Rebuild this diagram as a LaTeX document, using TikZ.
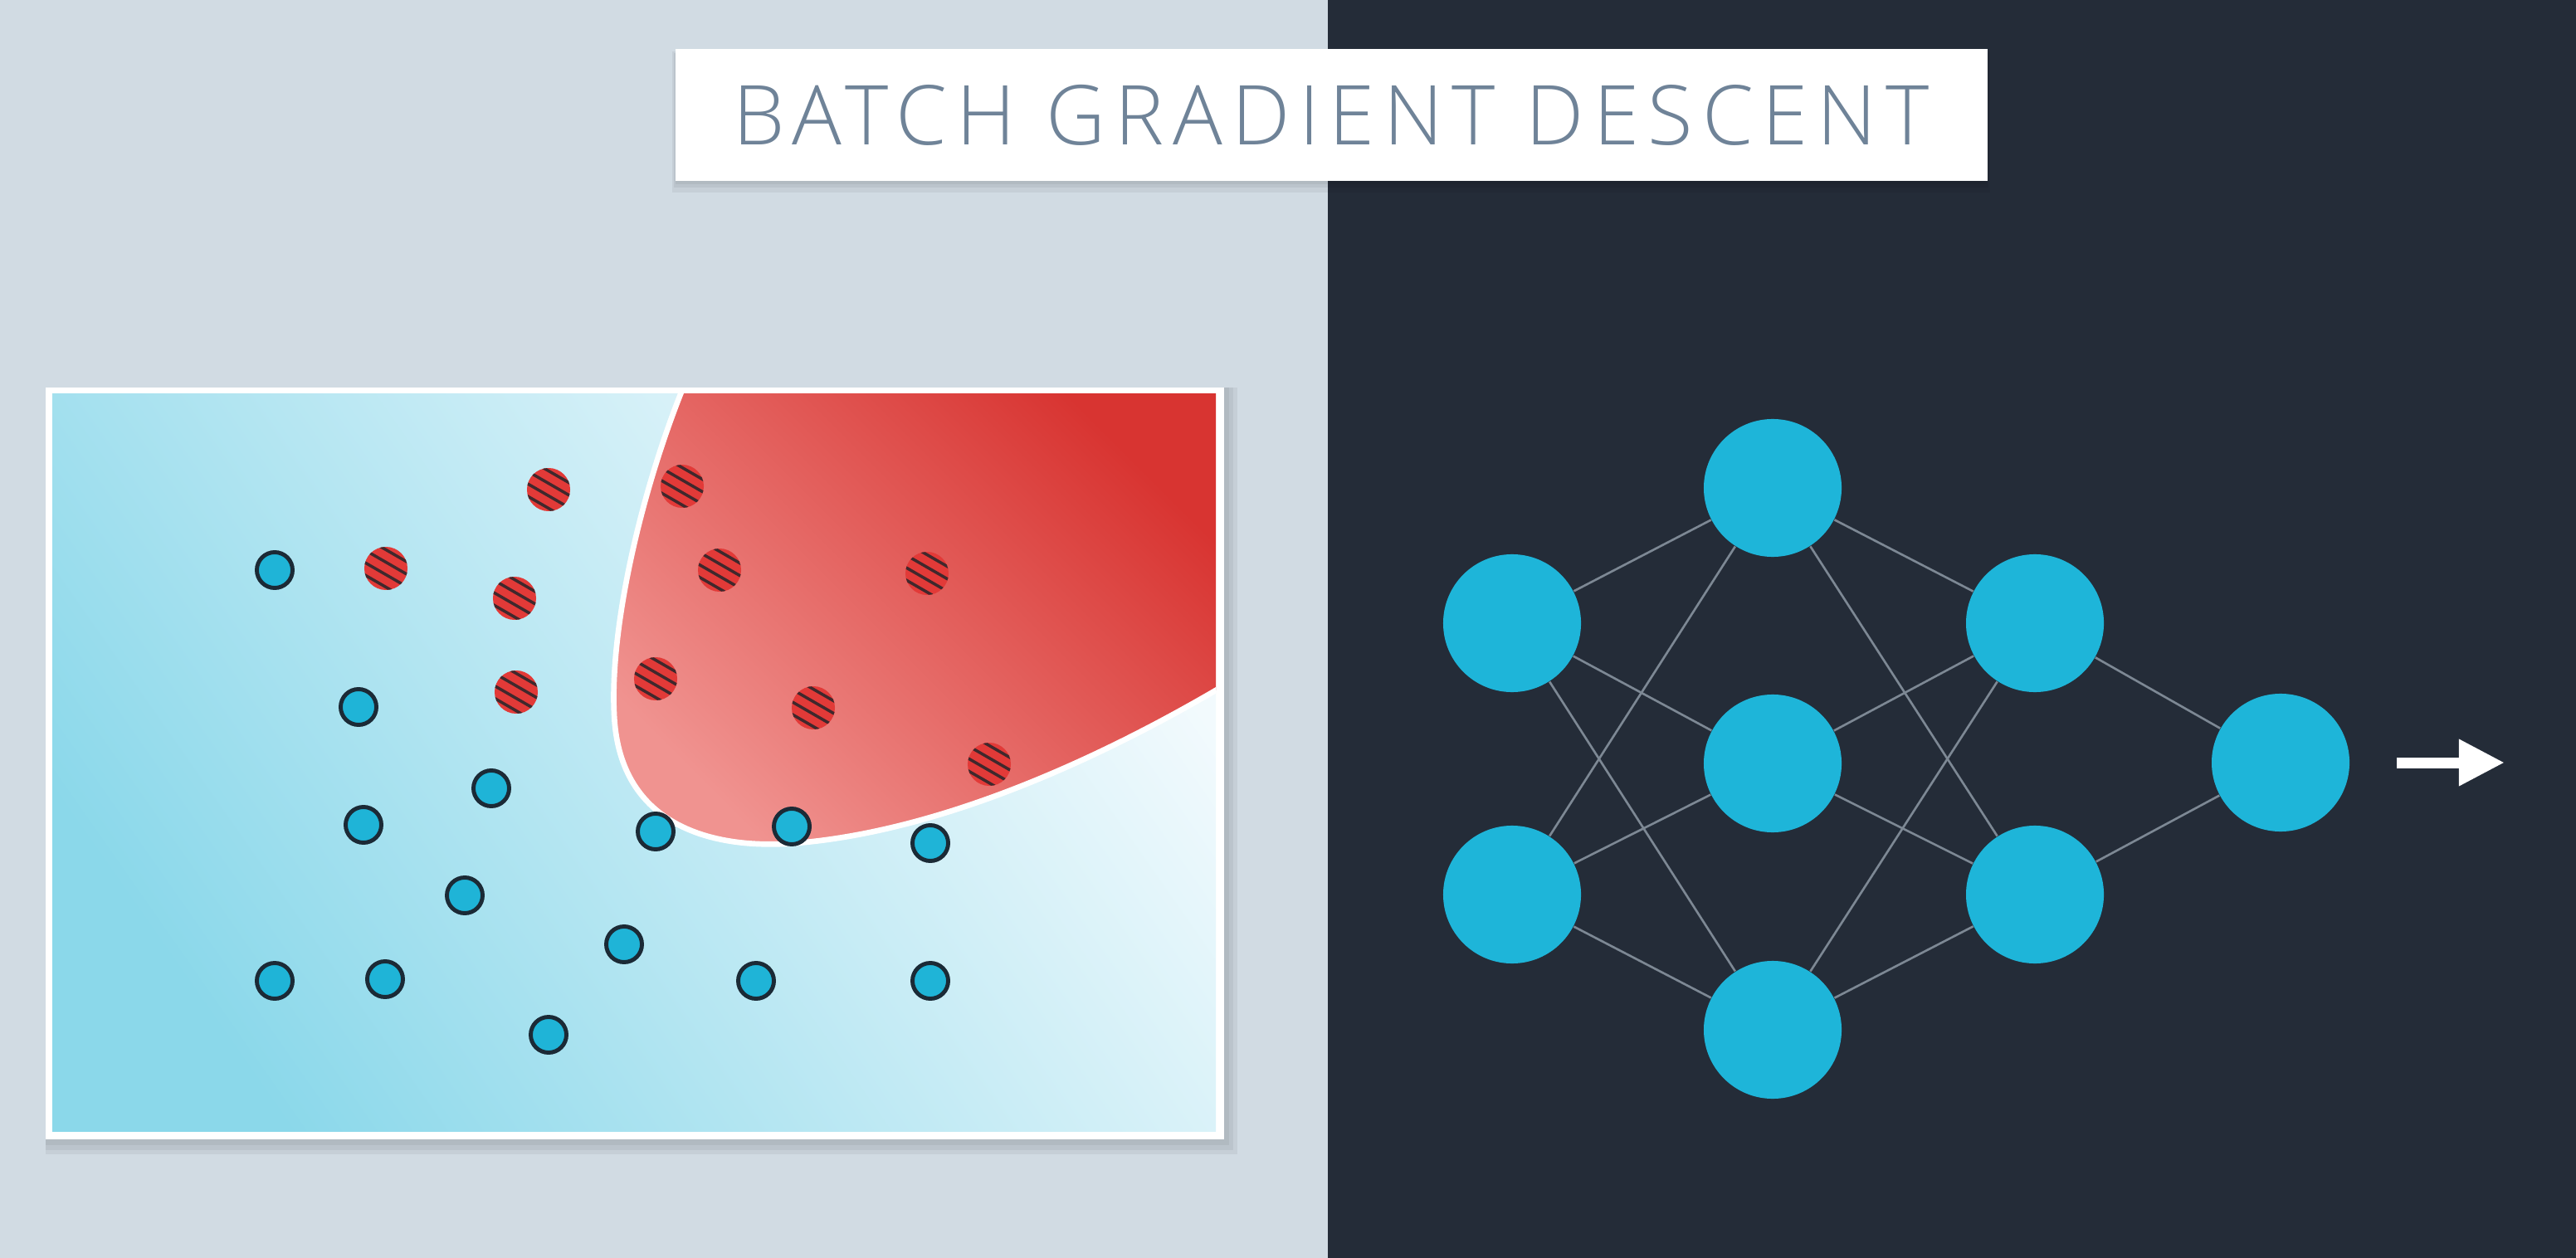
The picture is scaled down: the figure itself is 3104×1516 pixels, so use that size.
\documentclass[tikz,border=0pt]{standalone}
\usepackage{fontspec}
\usepackage{tikz}
\usetikzlibrary{positioning,arrows.meta}

\newfontfamily\titlefont[LetterSpace=11]{Open Sans Light}

\definecolor{bgleft}{HTML}{D1DBE3}
\definecolor{bgright}{HTML}{242C38}
\definecolor{titlecol}{HTML}{6F8398}
\definecolor{blueA}{HTML}{8BD8EA}
\definecolor{blueB}{HTML}{F2FAFD}
\definecolor{redA}{HTML}{F09390}
\definecolor{redB}{HTML}{D83431}
\definecolor{ptred}{HTML}{E23A38}
\definecolor{hatchcol}{HTML}{40282C}
\definecolor{ptblue}{HTML}{1FB4D7}
\definecolor{ptline}{HTML}{1B2A36}
\definecolor{nodecyan}{HTML}{1EB5D9}
\definecolor{edgegray}{HTML}{7D8894}

\tikzset{
  titlebox/.style={fill=white, minimum width=15.8cm, minimum height=1.59cm, inner sep=0pt,
    text=titlecol, font=\titlefont\fontsize{28.3pt}{30pt}\selectfont},
  softshadow/.style={fill=black, opacity=0.05},
  neuron/.style={circle, fill=nodecyan, minimum size=1.66cm, inner sep=0pt},
  synapse/.style={draw=edgegray, line width=0.75pt},
  bluept/.style={circle, fill=ptblue, draw=ptline, line width=1.4pt, minimum size=0.43cm, inner sep=0pt},
  redpt/.style={circle, fill=ptred, minimum size=0.52cm, inner sep=0pt,
    path picture={
      \begin{scope}[shift={(path picture bounding box.center)}]
        \foreach \d in {-0.195,-0.065,0.065,0.195}
          \draw[hatchcol, line width=1pt]
            ({\d*0.5cm-0.3464cm},{\d*0.866cm+0.2cm}) -- ({\d*0.5cm+0.3464cm},{\d*0.866cm-0.2cm});
      \end{scope}}},
}

\begin{document}
\begin{tikzpicture}[x=0.01cm,y=-0.01cm]
	\useasboundingbox (0,0) rectangle (3104,1516);
	% Sfondo
	\fill[bgleft] (0,0) rectangle (1600,1516);
	\fill[bgright] (1600,0) rectangle (3104,1516);

	% Titolo
	\fill[softshadow] (810,62) rectangle (2398,232);
	\fill[softshadow] (812,64) rectangle (2396,226);
	\fill[softshadow] (814,66) rectangle (2394,222);
	\node[titlebox] (titolo) at (1604,138.5) {BATCH GRADIENT DESCENT};

	% Pannello dei dati
	\fill[softshadow] (55,467) rectangle (1491,1391);
	\fill[softshadow] (55,467) rectangle (1486,1386);
	\fill[softshadow] (55,467) rectangle (1481,1380);
	\fill[white] (55,467) rectangle (1475,1373);
	\shade[left color=blueA, right color=blueB, shading angle=125] (63,475) rectangle (1465,1363);
	\begin{scope}
		\clip (63,475) rectangle (1465,1363);
		\shade[left color=redA, right color=redB, shading angle=135]
			(822,470) .. controls (770,600) and (735,760) .. (740,860)
			.. controls (745,990) and (850,1025) .. (960,1016)
			.. controls (1150,1000) and (1350,900) .. (1475,826) -- (1475,470) -- cycle;
		\draw[white, line width=1.9pt]
			(822,470) .. controls (770,600) and (735,760) .. (740,860)
			.. controls (745,990) and (850,1025) .. (960,1016)
			.. controls (1150,1000) and (1350,900) .. (1475,826);
	\end{scope}

	% Punti rossi
	\node[redpt] (r1) at (661,590) {};
	\node[redpt] (r2) at (822,586) {};
	\node[redpt] (r3) at (465,685) {};
	\node[redpt] (r4) at (620,721) {};
	\node[redpt] (r5) at (867,687) {};
	\node[redpt] (r6) at (1117,691) {};
	\node[redpt] (r7) at (622,834) {};
	\node[redpt] (r8) at (790,818) {};
	\node[redpt] (r9) at (980,853) {};
	\node[redpt] (r10) at (1192,921) {};

	% Punti blu
	\node[bluept] (b1) at (331,687) {};
	\node[bluept] (b2) at (432,852) {};
	\node[bluept] (b3) at (592,950) {};
	\node[bluept] (b4) at (438,994) {};
	\node[bluept] (b5) at (790,1002) {};
	\node[bluept] (b6) at (954,996) {};
	\node[bluept] (b7) at (1121,1016) {};
	\node[bluept] (b8) at (560,1079) {};
	\node[bluept] (b9) at (752,1138) {};
	\node[bluept] (b10) at (331,1182) {};
	\node[bluept] (b11) at (464,1180) {};
	\node[bluept] (b12) at (911,1182) {};
	\node[bluept] (b13) at (1121,1182) {};
	\node[bluept] (b14) at (661,1247) {};

	% Rete neurale
	\node[neuron] (i1) at (1822,751) {};
	\node[neuron] (i2) at (1822,1078) {};
	\node[neuron] (h1) at (2136,588) {};
	\node[neuron] (h2) at (2136,920) {};
	\node[neuron] (h3) at (2136,1241) {};
	\node[neuron] (k1) at (2452,751) {};
	\node[neuron] (k2) at (2452,1078) {};
	\node[neuron] (out) at (2748,919) {};

	% Collegamenti
	\draw[synapse] (i1) -- (h1);
	\draw[synapse] (i1) -- (h2);
	\draw[synapse] (i1) -- (h3);
	\draw[synapse] (i2) -- (h1);
	\draw[synapse] (i2) -- (h2);
	\draw[synapse] (i2) -- (h3);
	\draw[synapse] (h1) -- (k1);
	\draw[synapse] (h1) -- (k2);
	\draw[synapse] (h2) -- (k1);
	\draw[synapse] (h2) -- (k2);
	\draw[synapse] (h3) -- (k1);
	\draw[synapse] (h3) -- (k2);
	\draw[synapse] (k1) -- (out);
	\draw[synapse] (k2) -- (out);

	% Freccia di uscita
	\coordinate[right=0.56cm of out] (frecciaA);
	\coordinate[right=1.3cm of frecciaA] (frecciaB);
	\draw[white, line width=3.7pt, -{Triangle[length=0.55cm, width=0.53cm]}] (frecciaA) -- (frecciaB);
\end{tikzpicture}
\end{document}
